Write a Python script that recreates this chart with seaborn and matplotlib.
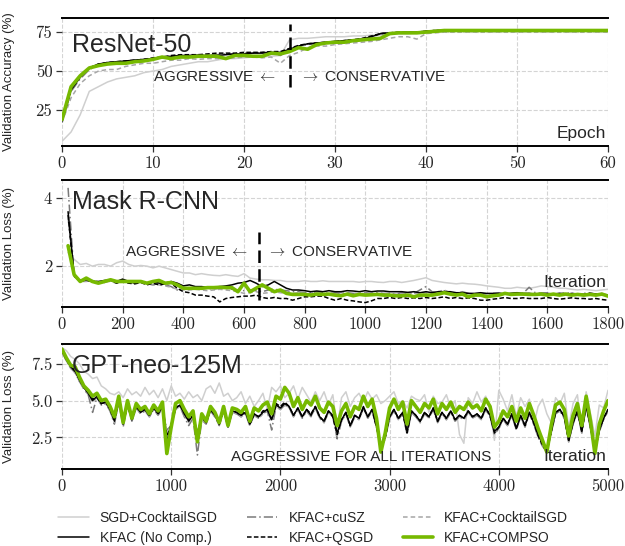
import matplotlib
matplotlib.use("Agg")
import matplotlib.pyplot as plt
from matplotlib.ticker import FuncFormatter
import seaborn as sns

# ---------------- data ----------------
methods = ["SGD+CocktailSGD", "KFAC (No Comp.)", "KFAC+cuSZ",
           "KFAC+QSGD", "KFAC+CocktailSGD", "KFAC+COMPSO"]

# ResNet-50, validation accuracy per epoch
epochs = list(range(61))
resnet_sgd_cocktail = [5, 11, 22, 37, 40, 43, 45, 46, 47, 49,
                       50, 51, 53, 54, 55, 56, 56, 57, 58, 58,
                       58.5, 59, 59, 59.5, 60, 70, 71, 71, 71.5, 72,
                       72, 72, 72.5, 72.5, 73, 73, 73.5, 74, 74, 74.5,
                       75, 75, 75.5, 75.5, 75.5, 75.5, 75.5, 75.5, 75.5, 75.5,
                       75.5, 75.5, 75.5, 75.5, 75.5, 75.5, 75.5, 75.5, 75.5, 75.5,
                       75.5]
resnet_kfac = [18, 38, 46, 52, 54.5, 55.5, 56, 56.5, 57, 57.5,
               58, 58.5, 59.5, 60, 60, 60, 60, 60, 60.5, 61,
               61, 61.5, 61.5, 62, 62, 64, 66, 67.5, 68, 68.5,
               69, 69.5, 70, 70.5, 72, 74, 74.5, 74.5, 75, 75,
               75.5, 76, 76, 76, 76, 76, 76, 76, 76, 76,
               76, 76, 76, 76, 76, 76, 76, 76, 76, 76,
               76]
resnet_cusz = [17, 37, 45, 51, 54, 55, 55.5, 56, 57, 57.5,
               58, 59, 59.5, 59.5, 60, 60.5, 60, 60.5, 61, 61,
               61.5, 61.5, 62, 62, 60, 63.5, 66, 67, 67.5, 68.5,
               69, 69.5, 70, 70.5, 71.5, 74, 74.5, 74.5, 75, 75,
               75.5, 76, 76, 76, 76, 76, 76, 76, 76, 76,
               76, 76, 76, 76, 76, 76, 76, 76, 76, 76,
               76]
resnet_qsgd = [18, 39, 47, 52, 54.5, 55.5, 56, 56.5, 57, 57.5,
               58.5, 59, 60, 60.5, 60.5, 60.5, 61, 61.5, 61.5, 61.5,
               62, 62, 62, 62.5, 62.5, 64.5, 66.5, 67.5, 68, 68.5,
               69, 69.5, 70, 71, 72.5, 74, 74.5, 75, 75, 75,
               75.5, 76, 76, 76, 76, 76, 76, 76, 76, 76,
               76, 76, 76, 76, 76, 76, 76, 76, 76, 76,
               76]
resnet_kfac_cocktail = [17, 33, 42, 47, 50, 51, 51, 53, 54, 55,
                        55, 56, 57, 57, 58, 57.5, 58, 58, 58, 58.5,
                        59, 59, 58.5, 59, 55, 60, 62, 65, 66, 66,
                        67, 67.5, 68, 68.5, 69, 70, 71, 72, 72, 70.5,
                        74, 74.5, 75, 75, 75, 75, 75, 75, 75, 75,
                        75, 75, 75, 75, 75, 75, 75, 75, 75, 75,
                        75]
resnet_compso = [19, 40, 47, 52, 53.5, 54.5, 55, 55, 56, 56.5,
                 57.5, 59, 58, 59, 59, 59.5, 59.5, 59.5, 58, 60,
                 60, 59.5, 59.5, 61.5, 61, 62.5, 65, 64, 67, 68,
                 68.5, 68.5, 69.5, 70, 70.5, 71, 74, 74.5, 74.5, 74.5,
                 75, 75.5, 76, 76, 76, 76, 76, 76, 76, 76,
                 76, 76, 76, 76, 76, 76, 76, 76, 76, 76,
                 76]

# Mask R-CNN, validation loss every 20 iterations
mask_iters = list(range(20, 1801, 20))
mask_sgd_cocktail = [2.4, 2.2, 2.05, 2.08, 2.0, 2.05, 2.05, 2.0, 2.1, 2.15,
                     2.05, 2.0, 2.02, 2.0, 1.95, 2.0, 1.95, 1.9, 1.85, 1.8,
                     1.8, 1.75, 1.78, 1.75, 1.73, 1.72, 1.75, 1.72, 1.7, 1.78,
                     1.65, 1.62, 1.6, 1.6, 1.58, 1.58, 1.55, 1.55, 1.55, 1.57,
                     1.55, 1.55, 1.57, 1.55, 1.55, 1.55, 1.55, 1.55, 1.53, 1.55,
                     1.55, 1.53, 1.52, 1.55, 1.55, 1.52, 1.55, 1.58, 1.62, 1.66,
                     1.58, 1.55, 1.52, 1.5, 1.48, 1.5, 1.48, 1.47, 1.45, 1.42,
                     1.4, 1.38, 1.35, 1.35, 1.38, 1.36, 1.35, 1.38, 1.42, 1.4,
                     1.38, 1.35, 1.35, 1.32, 1.3, 1.32, 1.3, 1.28, 1.3, 1.32]
mask_kfac = [3.6, 1.75, 1.55, 1.6, 1.55, 1.55, 1.58, 1.6, 1.55, 1.62,
             1.55, 1.5, 1.55, 1.5, 1.55, 1.5, 1.5, 1.55, 1.5, 1.42,
             1.45, 1.4, 1.4, 1.38, 1.38, 1.4, 1.42, 1.45, 1.5, 1.52,
             1.58, 1.5, 1.4, 1.45, 1.55, 1.45, 1.35, 1.3, 1.3, 1.28,
             1.25, 1.27, 1.25, 1.28, 1.25, 1.25, 1.28, 1.27, 1.25, 1.28,
             1.25, 1.27, 1.27, 1.25, 1.25, 1.25, 1.23, 1.25, 1.22, 1.25,
             1.22, 1.25, 1.25, 1.25, 1.22, 1.22, 1.2, 1.2, 1.22, 1.2,
             1.2, 1.2, 1.18, 1.2, 1.22, 1.2, 1.2, 1.18, 1.2, 1.2,
             1.18, 1.2, 1.17, 1.2, 1.18, 1.17, 1.2, 1.18, 1.17, 1.15]
mask_cusz = [4.3, 1.7, 1.55, 1.6, 1.55, 1.55, 1.52, 1.58, 1.55, 1.6,
             1.5, 1.52, 1.55, 1.5, 1.45, 1.5, 1.45, 1.4, 1.3, 1.35,
             1.35, 1.38, 1.35, 1.35, 1.33, 1.35, 1.35, 1.32, 1.3, 1.28,
             1.3, 1.28, 1.25, 1.3, 1.32, 1.3, 1.28, 1.25, 1.25, 1.22,
             1.22, 1.25, 1.22, 1.2, 1.22, 1.2, 1.22, 1.2, 1.2, 1.22,
             1.2, 1.22, 1.2, 1.2, 1.18, 1.22, 1.2, 1.2, 1.3, 1.4,
             1.25, 1.22, 1.28, 1.22, 1.2, 1.25, 1.2, 1.18, 1.2, 1.18,
             1.2, 1.22, 1.18, 1.2, 1.22, 1.2, 1.38, 1.22, 1.2, 1.2,
             1.18, 1.2, 1.22, 1.2, 1.18, 1.2, 1.22, 1.18, 1.2, 1.15]
mask_qsgd = [3.5, 1.7, 1.6, 1.58, 1.55, 1.52, 1.55, 1.58, 1.5, 1.55,
             1.5, 1.48, 1.52, 1.45, 1.5, 1.45, 1.48, 1.5, 1.35, 1.25,
             1.22, 1.15, 1.15, 1.12, 1.1, 0.95, 1.05, 1.08, 1.1, 1.12,
             1.12, 1.15, 1.08, 1.05, 1.08, 1.05, 1.05, 1.0, 1.05, 1.1,
             1.1, 1.12, 1.12, 1.05, 1.0, 1.05, 1.0, 0.98, 0.95, 0.93,
             0.98, 1.05, 1.05, 1.08, 1.05, 1.08, 1.05, 1.07, 1.05, 1.08,
             1.05, 1.07, 1.1, 1.05, 1.08, 1.05, 1.07, 1.05, 1.0, 1.0,
             1.03, 1.05, 1.08, 1.05, 1.05, 1.07, 1.05, 1.05, 1.05, 1.08,
             1.05, 1.03, 1.05, 1.07, 1.05, 1.05, 1.03, 1.05, 1.02, 1.0]
mask_kfac_cocktail = [3.4, 1.7, 1.55, 1.55, 1.58, 1.52, 1.55, 1.55, 1.5, 1.55,
                      1.5, 1.5, 1.52, 1.48, 1.45, 1.45, 1.42, 1.38, 1.32, 1.3,
                      1.3, 1.32, 1.3, 1.28, 1.3, 1.32, 1.3, 1.28, 1.25, 1.2,
                      1.22, 1.25, 1.2, 1.22, 1.25, 1.22, 1.2, 1.2, 1.22, 1.2,
                      1.2, 1.22, 1.2, 1.18, 1.2, 1.22, 1.2, 1.18, 1.2, 1.2,
                      1.18, 1.2, 1.2, 1.18, 1.18, 1.2, 1.22, 1.2, 1.2, 1.22,
                      1.2, 1.25, 1.3, 1.22, 1.2, 1.18, 1.2, 1.18, 1.18, 1.15,
                      1.15, 1.18, 1.2, 1.18, 1.2, 1.18, 1.2, 1.15, 1.18, 1.18,
                      1.15, 1.18, 1.2, 1.18, 1.15, 1.18, 1.18, 1.15, 1.18, 1.15]
mask_compso = [2.6, 1.75, 1.55, 1.65, 1.55, 1.5, 1.55, 1.6, 1.55, 1.55,
               1.55, 1.55, 1.55, 1.5, 1.55, 1.58, 1.5, 1.52, 1.45, 1.35,
               1.35, 1.35, 1.35, 1.37, 1.37, 1.38, 1.37, 1.37, 1.25, 1.5,
               1.25, 1.35, 1.45, 1.35, 1.25, 1.3, 1.2, 1.17, 1.17, 1.17,
               1.15, 1.18, 1.17, 1.18, 1.15, 1.13, 1.18, 1.13, 1.17, 1.15,
               1.16, 1.17, 1.15, 1.15, 1.13, 1.13, 1.15, 1.1, 1.15, 1.15,
               1.15, 1.18, 1.22, 1.18, 1.15, 1.18, 1.1, 1.15, 1.15, 1.1,
               1.13, 1.15, 1.2, 1.17, 1.18, 1.18, 1.17, 1.17, 1.18, 1.15,
               1.18, 1.15, 1.18, 1.15, 1.17, 1.15, 1.17, 1.15, 1.18, 1.12]

# GPT-neo-125M, validation loss every 40 iterations
gpt_iters = list(range(0, 5001, 40))
gpt_sgd_cocktail = [8.6, 8.4, 8.0, 7.8, 7.5, 7.0, 6.8, 6.5, 6.6, 6.0,
                    5.8, 5.5, 5.4, 5.6, 5.2, 5.8, 5.4, 5.6, 5.3, 5.9,
                    5.4, 5.7, 5.2, 5.8, 5.0, 6.0, 5.3, 5.5, 5.1, 5.6,
                    5.2, 5.4, 5.0, 5.8, 6.0, 5.5, 6.2, 5.3, 5.5, 5.0,
                    5.2, 5.6, 4.8, 5.3, 4.6, 5.0, 5.5, 4.4, 5.9, 5.6,
                    6.0, 5.2, 5.5, 6.0, 5.1, 5.9, 5.4, 4.9, 5.6, 5.0,
                    5.6, 4.7, 5.4, 3.1, 5.2, 5.6, 4.6, 5.2, 5.5, 4.9,
                    5.6, 5.1, 5.4, 4.8, 5.0, 5.3, 5.6, 4.8, 5.0, 4.5,
                    5.3, 5.1, 5.0, 5.4, 4.2, 5.3, 4.8, 4.9, 5.4, 4.5,
                    5.0, 2.7, 2.1, 5.2, 4.8, 5.6, 4.9, 5.3, 4.5, 2.3,
                    5.7, 5.1, 4.3, 5.4, 3.9, 5.2, 4.6, 5.1, 3.3, 4.6,
                    5.1, 4.1, 3.5, 5.2, 4.8, 5.5, 3.2, 4.8, 5.4, 2.9,
                    5.6, 4.1, 2.6, 4.7, 4.5, 5.7]
gpt_kfac = [8.4, 7.8, 7.3, 7.0, 6.4, 5.9, 5.5, 5.0, 5.3, 4.8,
            4.9, 4.4, 3.6, 5.0, 3.4, 4.8, 3.7, 4.6, 4.2, 4.4,
            4.0, 4.5, 4.1, 4.6, 2.2, 3.4, 4.5, 4.7, 4.1, 3.6,
            4.0, 2.8, 3.9, 3.5, 4.4, 4.0, 3.4, 4.4, 3.3, 4.3,
            4.2, 4.0, 4.2, 3.4, 4.1, 3.9, 4.2, 4.4, 3.7, 4.7,
            4.5, 4.8, 4.6, 4.0, 4.5, 3.9, 4.4, 4.0, 4.6, 3.9,
            3.6, 4.3, 4.0, 2.8, 3.7, 4.2, 3.3, 4.0, 3.8, 4.6,
            3.9, 4.4, 3.3, 2.0, 2.6, 3.9, 4.4, 3.8, 4.2, 2.9,
            4.3, 4.0, 3.6, 4.2, 3.9, 4.5, 3.6, 4.2, 3.8, 4.3,
            3.7, 4.0, 3.8, 4.3, 3.9, 4.1, 3.8, 4.5, 4.0, 2.9,
            3.2, 3.8, 3.4, 4.1, 3.1, 4.0, 3.3, 4.2, 3.5, 2.7,
            2.1, 1.6, 2.9, 4.2, 4.4, 3.9, 2.3, 3.5, 4.3, 2.9,
            4.7, 3.2, 1.6, 3.0, 3.8, 4.4]
gpt_cusz = [8.3, 7.7, 7.2, 6.9, 6.3, 5.8, 5.4, 4.2, 5.2, 4.7,
            4.8, 4.3, 3.4, 4.9, 3.2, 4.7, 3.6, 4.5, 4.1, 4.3,
            3.9, 4.4, 4.0, 4.5, 3.0, 3.3, 4.4, 4.6, 3.9, 3.3,
            3.8, 1.3, 3.7, 3.4, 4.3, 3.9, 3.3, 4.3, 3.2, 4.2,
            4.1, 3.9, 4.1, 3.3, 4.0, 3.8, 4.1, 4.3, 3.0, 4.6,
            4.4, 4.7, 4.5, 3.9, 4.4, 3.8, 4.3, 3.9, 4.5, 3.8,
            3.5, 4.2, 3.9, 2.4, 3.6, 4.1, 3.2, 3.9, 3.7, 4.5,
            3.8, 4.3, 3.2, 1.8, 2.4, 3.8, 4.3, 3.7, 4.1, 2.7,
            4.2, 3.9, 3.5, 4.1, 3.8, 4.4, 3.5, 4.1, 3.7, 4.2,
            3.6, 3.9, 3.7, 4.2, 3.8, 4.0, 3.7, 4.4, 3.9, 2.7,
            3.1, 3.7, 3.3, 4.0, 3.0, 3.9, 3.2, 4.1, 3.4, 2.5,
            1.9, 1.5, 2.8, 4.1, 4.3, 3.8, 2.2, 3.4, 4.2, 2.8,
            4.6, 3.1, 1.5, 2.9, 3.7, 4.3]
gpt_qsgd = [8.4, 7.8, 7.4, 7.0, 6.5, 5.9, 5.6, 5.1, 5.2, 4.8,
            4.9, 4.5, 3.7, 5.0, 3.5, 4.7, 3.7, 4.6, 4.3, 4.4,
            4.0, 4.5, 4.2, 4.6, 2.6, 3.3, 4.5, 4.7, 4.2, 3.7,
            4.0, 2.5, 3.9, 3.5, 4.4, 4.1, 3.4, 4.4, 3.2, 4.3,
            4.2, 4.0, 4.3, 3.4, 4.1, 3.9, 4.3, 4.4, 3.7, 4.8,
            4.6, 4.9, 4.6, 4.0, 4.5, 3.9, 4.4, 4.1, 4.6, 3.9,
            3.6, 4.3, 3.9, 2.7, 3.7, 4.2, 3.3, 4.0, 3.8, 4.5,
            3.9, 4.4, 3.2, 1.9, 2.5, 3.9, 4.4, 3.8, 4.2, 2.8,
            4.3, 4.0, 3.6, 4.2, 3.9, 4.5, 3.6, 4.2, 3.8, 4.3,
            3.7, 4.0, 3.8, 4.3, 3.9, 4.1, 3.8, 4.5, 4.0, 2.8,
            3.2, 3.8, 3.4, 4.1, 3.1, 4.0, 3.3, 4.2, 3.5, 2.6,
            2.0, 1.5, 2.9, 4.2, 4.4, 3.9, 2.3, 3.5, 4.3, 2.9,
            4.7, 3.2, 1.5, 3.0, 3.8, 4.4]
gpt_kfac_cocktail = [8.3, 7.7, 7.2, 6.9, 6.3, 5.8, 5.4, 4.9, 5.2, 4.7,
                     4.8, 4.3, 3.5, 4.9, 3.3, 4.7, 3.6, 4.5, 4.1, 4.3,
                     3.9, 4.4, 4.0, 4.5, 2.8, 3.3, 4.4, 4.6, 4.0, 3.5,
                     3.9, 2.7, 3.8, 3.4, 4.3, 3.9, 3.3, 4.3, 3.2, 4.2,
                     4.1, 3.9, 4.1, 3.3, 4.0, 3.8, 4.1, 4.3, 3.6, 4.6,
                     4.4, 4.7, 4.5, 3.9, 4.4, 3.8, 4.3, 3.9, 4.5, 3.8,
                     3.5, 4.2, 3.9, 2.6, 3.6, 4.1, 3.2, 3.9, 3.7, 4.5,
                     3.8, 4.3, 3.2, 1.9, 2.5, 3.8, 4.3, 3.7, 4.1, 2.8,
                     4.2, 3.9, 3.5, 4.1, 3.8, 4.4, 3.5, 4.1, 3.7, 4.2,
                     3.6, 3.9, 3.7, 4.2, 3.8, 4.0, 3.7, 4.4, 3.9, 2.8,
                     3.1, 3.7, 3.3, 4.0, 3.0, 3.9, 3.2, 4.1, 3.4, 2.6,
                     2.0, 1.5, 2.8, 4.1, 4.3, 3.8, 2.2, 3.4, 4.2, 2.8,
                     4.6, 3.1, 1.5, 2.9, 3.7, 4.3]
gpt_compso = [8.5, 7.9, 7.4, 7.3, 6.6, 6.0, 5.7, 5.3, 5.5, 5.0,
              5.1, 4.6, 3.9, 5.3, 3.5, 5.0, 3.8, 4.8, 4.4, 4.6,
              4.1, 4.7, 4.3, 4.9, 1.4, 3.2, 4.8, 5.0, 4.4, 3.9,
              4.3, 2.2, 4.1, 3.6, 4.6, 4.2, 3.5, 4.6, 3.3, 4.5,
              4.4, 4.2, 4.6, 3.6, 4.5, 4.3, 4.7, 4.9, 4.1, 5.3,
              5.1, 5.9, 5.5, 4.6, 5.2, 4.4, 5.0, 4.7, 5.3, 4.5,
              4.2, 4.9, 4.6, 3.3, 4.3, 4.8, 3.9, 4.6, 4.4, 5.3,
              4.6, 5.1, 3.8, 1.5, 2.8, 4.5, 5.1, 4.4, 4.9, 3.4,
              5.0, 4.6, 4.2, 4.8, 4.5, 5.1, 4.1, 4.8, 4.4, 4.9,
              4.2, 4.6, 4.4, 4.9, 4.5, 4.7, 4.3, 5.1, 4.6, 3.2,
              3.6, 4.3, 3.9, 4.6, 3.6, 4.5, 3.8, 4.8, 4.0, 3.1,
              2.3, 1.5, 3.3, 4.7, 4.9, 4.4, 2.6, 4.0, 4.8, 3.3,
              5.3, 3.6, 1.4, 3.4, 4.3, 5.0]

resnet_switch = 25      # epoch where COMPSO turns conservative
mask_switch = 650       # iteration where COMPSO turns conservative

# ---------------- style ----------------
sns.set_style("whitegrid", {
    "grid.linestyle": "--",
    "grid.color": "#d4d4d4",
    "axes.edgecolor": "black",
    "xtick.bottom": True,
    "ytick.left": True,
})
plt.rcParams["font.family"] = ["Liberation Sans", "DejaVu Sans"]
plt.rcParams["mathtext.fontset"] = "cm"
plt.rcParams["grid.linewidth"] = 0.8

styles = {
    "SGD+CocktailSGD": dict(color="#cfcfcf", linestyle="-", linewidth=1.1, zorder=2),
    "KFAC (No Comp.)": dict(color="black", linestyle="-", linewidth=1.1, zorder=4),
    "KFAC+cuSZ": dict(color="#7a7a7a", linestyle=(0, (6, 2, 1, 2)), linewidth=1.1, zorder=3),
    "KFAC+QSGD": dict(color="black", linestyle=(0, (3, 1.5)), linewidth=1.1, zorder=4),
    "KFAC+CocktailSGD": dict(color="#a6a6a6", linestyle=(0, (3, 2)), linewidth=1.1, zorder=3),
    "KFAC+COMPSO": dict(color="#76b900", linestyle="-", linewidth=2.6, zorder=5),
}


def num_fmt(decimals):
    return FuncFormatter(lambda v, p: f"{v:.{decimals}f}")


def draw_panel(ax, x, series, xmax, xstep, ylim, yticks, ydec, ylabel, name, xname, name_y, xname_y):
    for m in methods:
        sns.lineplot(x=x, y=series[m], ax=ax, label=m, **styles[m])
    ax.get_legend().remove()
    ax.set_xlim(0, xmax)
    ax.set_ylim(*ylim)
    ax.set_xticks(range(0, xmax + 1, xstep))
    ax.set_yticks(yticks)
    ax.xaxis.set_major_formatter(num_fmt(0))
    ax.yaxis.set_major_formatter(num_fmt(ydec))
    # Computer Modern digits, as in the LaTeX original
    ax.tick_params(axis="both", length=4, width=0.9, color="#333333", labelsize=12,
                   pad=3, labelfontfamily="cmr10")
    ax.set_xlabel("")
    ax.set_ylabel(ylabel, fontsize=9.5)
    ax.yaxis.set_label_coords(-0.086, 0.5)
    for side in ["left", "right"]:
        ax.spines[side].set_visible(False)
    for side in ["top", "bottom"]:
        ax.spines[side].set_linewidth(1.4)
        ax.spines[side].set_color("black")
    ax.text(0.018, name_y, name, transform=ax.transAxes, fontsize=18,
            ha="left", va="center", zorder=10)
    ax.text(0.997, xname_y, xname, transform=ax.transAxes, fontsize=12.5,
            ha="right", va="center", zorder=10)


fig = plt.figure(figsize=(6.25, 5.46), dpi=100)
ax1 = fig.add_axes([0.0992, 0.7326, 0.8736, 0.2344])
ax2 = fig.add_axes([0.0992, 0.4377, 0.8736, 0.2326])
ax3 = fig.add_axes([0.0992, 0.1410, 0.8736, 0.2290])

resnet = dict(zip(methods, [resnet_sgd_cocktail, resnet_kfac, resnet_cusz,
                            resnet_qsgd, resnet_kfac_cocktail, resnet_compso]))
mask = dict(zip(methods, [mask_sgd_cocktail, mask_kfac, mask_cusz,
                          mask_qsgd, mask_kfac_cocktail, mask_compso]))
gpt = dict(zip(methods, [gpt_sgd_cocktail, gpt_kfac, gpt_cusz,
                         gpt_qsgd, gpt_kfac_cocktail, gpt_compso]))

draw_panel(ax1, epochs, resnet, 60, 10, (2, 84), [25, 50, 75], 0,
           "Validation Accuracy (%)", "ResNet-50", "Epoch", 0.79, 0.10)
draw_panel(ax2, mask_iters, mask, 1800, 200, (0.8, 4.53), [2, 4], 0,
           "Validation Loss (%)", "Mask R-CNN", "Iteration", 0.83, 0.19)
draw_panel(ax3, gpt_iters, gpt, 5000, 1000, (0.35, 8.85), [2.5, 5.0, 7.5], 1,
           "Validation Loss (%)", "GPT-neo-125M", "Iteration", 0.82, 0.10)

# aggressive / conservative annotations
ann = dict(fontsize=11, va="center", zorder=10)
ax1.plot([resnet_switch, resnet_switch], [40, 80], color="black", lw=1.8,
         linestyle=(0, (5, 2.5)), zorder=6)
ax1.text(resnet_switch - 1.4, 46.2, r"AGGRESSIVE $\leftarrow$", ha="right", **ann)
ax1.text(resnet_switch + 1.2, 46.2, r"$\rightarrow$ CONSERVATIVE", ha="left", **ann)

ax2.plot([mask_switch, mask_switch], [1.0, 3.0], color="black", lw=1.8,
         linestyle=(0, (5, 2.5)), zorder=6)
ax2.text(mask_switch - 35, 2.42, r"AGGRESSIVE $\leftarrow$", ha="right", **ann)
ax2.text(mask_switch + 25, 2.42, r"$\rightarrow$ CONSERVATIVE", ha="left", **ann)

ax3.text(0.548, 0.10, "AGGRESSIVE FOR ALL ITERATIONS", transform=ax3.transAxes,
         ha="center", **ann)

handles, labels = ax3.get_legend_handles_labels()
fig.legend(handles, labels, loc="upper left", bbox_to_anchor=(58 / 625, 1 - 511 / 546),
           ncol=3, frameon=False, fontsize=10, handlelength=2.2, handletextpad=0.8,
           columnspacing=2.1, labelspacing=0.4, borderpad=0, borderaxespad=0)

fig.savefig("out.png", dpi=100)
